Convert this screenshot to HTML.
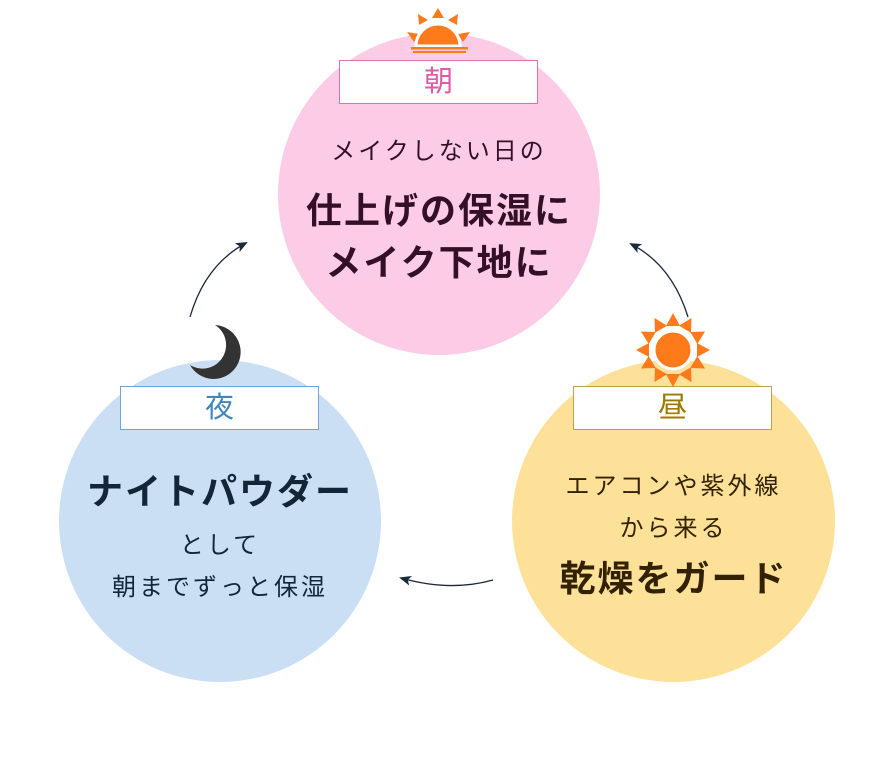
<!DOCTYPE html>
<html><head><meta charset="utf-8"><style>
body{margin:0;width:880px;height:765px;background:#fff;position:relative;overflow:hidden;font-family:"Liberation Sans","Noto Sans CJK JP",sans-serif}
.c{position:absolute;border-radius:50%}
.b{position:absolute;width:199px;height:44px;background:#fff;box-sizing:border-box;text-align:center;font-size:29px;line-height:42px}
.t{position:absolute;text-align:center;white-space:nowrap}
.s{font-size:24px;letter-spacing:3px;line-height:42px}
.L{font-size:36px;font-weight:bold;letter-spacing:2px;line-height:52px}
</style></head><body>
<div class="c" style="left:278px;top:33px;width:322px;height:322px;background:#fccbe6"></div>
<div class="c" style="left:59px;top:360px;width:322px;height:322px;background:#cadff4"></div>
<div class="c" style="left:512px;top:360px;width:323px;height:322px;background:#fde199"></div>
<div class="b" style="left:339px;top:60px;border:1px solid #e070b4;color:#dc5ca8">朝</div>
<div class="b" style="left:120px;top:386px;border:1px solid #6fa5d6;color:#3f86bd">夜</div>
<div class="b" style="left:573px;top:386px;border:1px solid #c0a04a;color:#9a7a00">昼</div>
<div class="t s" style="left:278px;width:322px;top:131px;color:#331028">メイクしない日の</div>
<div class="t L" style="left:278px;width:322px;top:185px;color:#331028">仕上げの保湿に<br>メイク下地に</div>
<div class="t L" style="left:59px;width:322px;top:466px;color:#122638">ナイトパウダー</div>
<div class="t s" style="left:59px;width:322px;top:525px;color:#122638">として<br>朝までずっと保湿</div>
<div class="t s" style="left:512px;width:323px;top:466px;color:#332200">エアコンや紫外線<br>から来る</div>
<div class="t L" style="left:512px;width:323px;top:553px;color:#332200">乾燥をガード</div>
<svg width="880" height="765" style="position:absolute;left:0;top:0">
<defs><marker id="a" markerWidth="12" markerHeight="10" refX="10" refY="5" orient="auto" markerUnits="userSpaceOnUse"><path d="M0,0 L12,5 L0,10 L3,5Z" fill="#1a2a3a"/></marker></defs>
<g fill="none" stroke="#1a2a3a" stroke-width="1.3" marker-end="url(#a)">
<path d="M190,317 Q205,265 246,243"/>
<path d="M688,317 Q672,265 631,244"/>
<path d="M493,580 Q450,592 401,578"/>
</g>
<g fill="#ff7a1a">
<path d="M438,8 l6,10 h-12z M418,14 l10,6 l-9,5z M458,14 l-10,6 l9,5z M407,32 l12,2 l-5,8z M470,32 l-12,2 l5,8z"/>
<path d="M416,46 a22,22 0 0 1 44,0z" stroke="#fff" stroke-width="3"/>
<rect x="411" y="47" width="57" height="2.5"/><rect x="413" y="51" width="53" height="2"/>
</g>
<g fill="#ff7a1a">
<circle cx="673" cy="350" r="19" stroke="#fff" stroke-width="3"/>
<g transform="translate(673,350)">
<path d="M-7,-24 L0,-37 L7,-24z"/><path d="M-7,-24 L0,-37 L7,-24z" transform="rotate(30)"/><path d="M-7,-24 L0,-37 L7,-24z" transform="rotate(60)"/><path d="M-7,-24 L0,-37 L7,-24z" transform="rotate(90)"/><path d="M-7,-24 L0,-37 L7,-24z" transform="rotate(120)"/><path d="M-7,-24 L0,-37 L7,-24z" transform="rotate(150)"/><path d="M-7,-24 L0,-37 L7,-24z" transform="rotate(180)"/><path d="M-7,-24 L0,-37 L7,-24z" transform="rotate(210)"/><path d="M-7,-24 L0,-37 L7,-24z" transform="rotate(240)"/><path d="M-7,-24 L0,-37 L7,-24z" transform="rotate(270)"/><path d="M-7,-24 L0,-37 L7,-24z" transform="rotate(300)"/><path d="M-7,-24 L0,-37 L7,-24z" transform="rotate(330)"/>
</g></g>
<path d="M215,325 A27,27 0 1 1 190,365 A22,22 0 0 0 215,325z" fill="#333"/>
</svg>
</body></html>
